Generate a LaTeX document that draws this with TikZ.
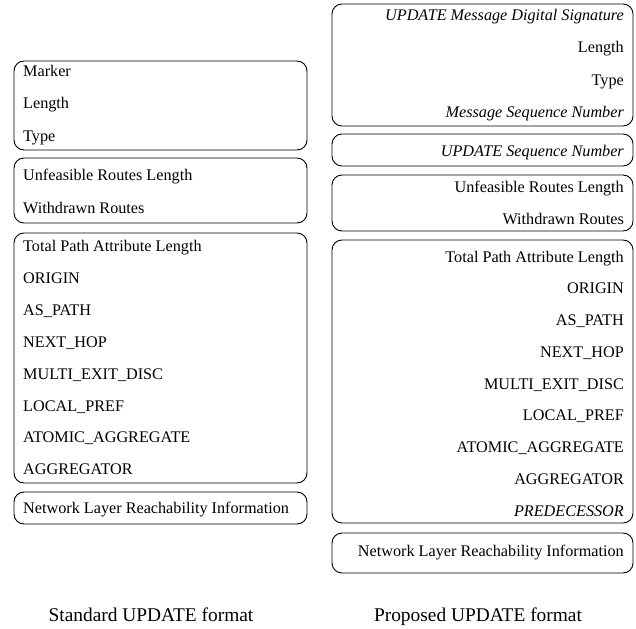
\documentclass[tikz,border=0pt]{standalone}
\usepackage{fontspec}
\setmainfont{Liberation Serif}
\begin{document}
\begin{tikzpicture}[x=1bp,y=-1bp,
  fieldbox/.style={draw, line width=0.9bp, rounded corners=10bp, inner sep=0pt},
  lt/.style={anchor=base west, inner sep=0pt, font=\fontsize{16.2bp}{19bp}\selectfont},
  rt/.style={anchor=base east, inner sep=0pt, font=\fontsize{16.2bp}{19bp}\selectfont},
  captext/.style={anchor=base, inner sep=0pt, font=\fontsize{19.4bp}{23bp}\selectfont}]
\useasboundingbox (0,0) rectangle (636,629);
% ---------- Standard UPDATE format ----------
\node[fieldbox, minimum width=293bp, minimum height=89bp] (L1) at (160.5,105.5) {};
\node[fieldbox, minimum width=293bp, minimum height=65bp] (L2) at (160.5,190.5) {};
\node[fieldbox, minimum width=293bp, minimum height=250bp] (L3) at (160.5,358) {};
\node[fieldbox, minimum width=293bp, minimum height=32bp] (L4) at (160.5,508) {};
\node[lt] (l1a) at (23,77) {Marker};
\node[lt] (l1b) at (23,109) {Length};
\node[lt] (l1c) at (23,141.5) {Type};
\node[lt] (l2a) at (23,181) {Unfeasible Routes Length};
\node[lt] (l2b) at (23,213) {Withdrawn Routes};
\node[lt] (l3a) at (23,251.5) {Total Path Attribute Length};
\node[lt] (l3b) at (23,283.4) {ORIGIN};
\node[lt] (l3c) at (23,315.3) {AS\_PATH};
\node[lt] (l3d) at (23,347.2) {NEXT\_HOP};
\node[lt] (l3e) at (23,379.1) {MULTI\_EXIT\_DISC};
\node[lt] (l3f) at (23,411) {LOCAL\_PREF};
\node[lt] (l3g) at (23,442.9) {ATOMIC\_AGGREGATE};
\node[lt] (l3h) at (23,474.8) {AGGREGATOR};
\node[lt] (l4a) at (23,513) {Network Layer Reachability Information};
% ---------- Proposed UPDATE format ----------
\node[fieldbox, minimum width=301bp, minimum height=122bp] (R1) at (482.5,65) {};
\node[fieldbox, minimum width=301bp, minimum height=32bp] (R2) at (482.5,150) {};
\node[fieldbox, minimum width=301bp, minimum height=56bp] (R3) at (482.5,203) {};
\node[fieldbox, minimum width=301bp, minimum height=283bp] (R4) at (482.5,381.5) {};
\node[fieldbox, minimum width=301bp, minimum height=40bp] (R5) at (482.5,553) {};
\node[rt] (r1a) at (624,20.5) {\itshape UPDATE Message Digital Signature};
\node[rt] (r1b) at (624,53) {Length};
\node[rt] (r1c) at (624,85.5) {Type};
\node[rt] (r1d) at (624,118) {\itshape Message Sequence Number};
\node[rt] (r2a) at (624,157) {\itshape UPDATE Sequence Number};
\node[rt] (r3a) at (624,192) {Unfeasible Routes Length};
\node[rt] (r3b) at (624,224.5) {Withdrawn Routes};
\node[rt] (r4a) at (624,262) {Total Path Attribute Length};
\node[rt] (r4b) at (624,293.75) {ORIGIN};
\node[rt] (r4c) at (624,325.5) {AS\_PATH};
\node[rt] (r4d) at (624,357.25) {NEXT\_HOP};
\node[rt] (r4e) at (624,389) {MULTI\_EXIT\_DISC};
\node[rt] (r4f) at (624,420.75) {LOCAL\_PREF};
\node[rt] (r4g) at (624,452.5) {ATOMIC\_AGGREGATE};
\node[rt] (r4h) at (624,484.25) {AGGREGATOR};
\node[rt] (r4i) at (624,516) {\itshape PREDECESSOR};
\node[rt] (r5a) at (624,556.5) {Network Layer Reachability Information};
% ---------- captions ----------
\node[captext] (capL) at (151,621) {Standard UPDATE format};
\node[captext] (capR) at (478,621) {Proposed UPDATE format};
\end{tikzpicture}
\end{document}
